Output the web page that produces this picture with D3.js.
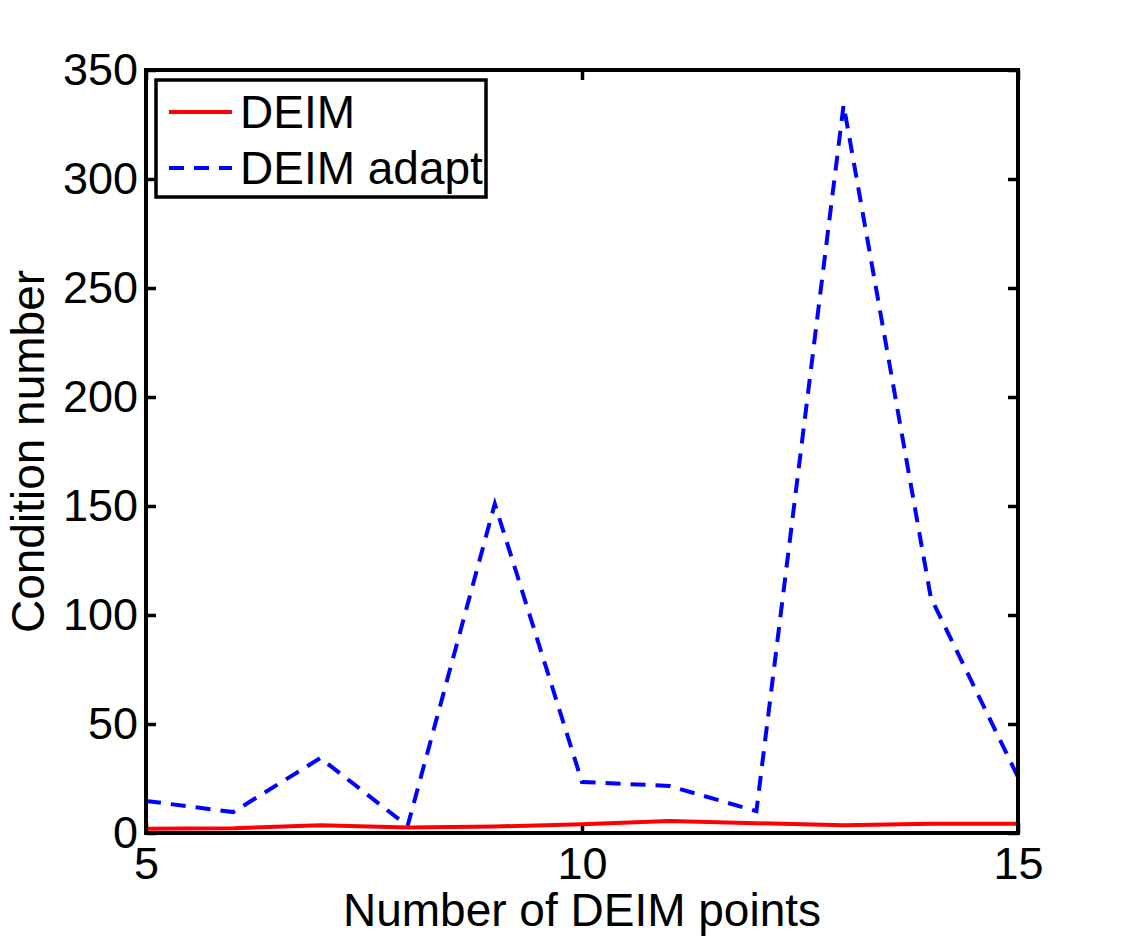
<!DOCTYPE html>
<html>
<head>
<meta charset="utf-8">
<script src="https://cdn.jsdelivr.net/npm/d3@7"></script>
<style>
body { margin: 0; background: #fff; }
text { font-family: "Liberation Sans", Arial, sans-serif; fill: #000; }
</style>
</head>
<body>
<svg id="vis"></svg>
<script>
var points = [5, 6, 7, 8, 9, 10, 11, 12, 13, 14, 15];
var deim = [2, 2.2, 3.5, 2.5, 3, 4, 5.5, 4.5, 3.5, 4.2, 4.3];
var deimAdapt = [14.7, 9.6, 34.4, 3.2, 151, 23.4, 21.6, 10, 334, 108, 25.7];
var xTicks = [5, 10, 15];
var yTicks = [0, 50, 100, 150, 200, 250, 300, 350];

var margin = {top: 70, right: 107, bottom: 105, left: 146},
    width = 1125 - margin.left - margin.right,
    height = 938 - margin.top - margin.bottom;

var svg = d3.select("#vis")
    .attr("width", 1125)
    .attr("height", 938)
    .append("g")
    .attr("transform", "translate(" + margin.left + "," + margin.top + ")");

var xScale = d3.scaleLinear().domain([5, 15]).range([0, width]);
var yScale = d3.scaleLinear().domain([0, 350]).range([height, 0]);

// axes, ticks pointing inward
function styleAxis(g) {
    g.select(".domain").remove();
    g.selectAll("line").attr("stroke", "#000").attr("stroke-width", 3.5);
    g.selectAll("text").style("font-size", "45px");
}

svg.append("g")
    .attr("transform", "translate(0," + height + ")")
    .call(d3.axisBottom(xScale).tickValues(xTicks).tickSize(-10).tickPadding(14))
    .call(styleAxis);
svg.append("g")
    .call(d3.axisTop(xScale).tickValues(xTicks).tickSize(-10).tickFormat(""))
    .call(styleAxis);
svg.append("g")
    .call(d3.axisLeft(yScale).tickValues(yTicks).tickSize(-10).tickPadding(8))
    .call(styleAxis);
svg.append("g")
    .attr("transform", "translate(" + width + ",0)")
    .call(d3.axisRight(yScale).tickValues(yTicks).tickSize(-10).tickFormat(""))
    .call(styleAxis);

svg.selectAll(".tick text").attr("fill", "#000");

var line = d3.line()
    .x(function (d) { return xScale(d[0]); })
    .y(function (d) { return yScale(d[1]); });

svg.append("path")
    .datum(points.map(function (p, i) { return [p, deimAdapt[i]]; }))
    .attr("d", line)
    .attr("fill", "none")
    .attr("stroke", "#0000ff")
    .attr("stroke-width", 4)
    .attr("stroke-dasharray", "15,10");

svg.append("path")
    .datum(points.map(function (p, i) { return [p, deim[i]]; }))
    .attr("d", line)
    .attr("fill", "none")
    .attr("stroke", "#ff0000")
    .attr("stroke-width", 4);

// frame
svg.append("rect")
    .attr("width", width)
    .attr("height", height)
    .attr("fill", "none")
    .attr("stroke", "#000")
    .attr("stroke-width", 4);

// labels
svg.append("text")
    .attr("x", width / 2)
    .attr("y", height + 93)
    .style("text-anchor", "middle")
    .style("font-size", "46px")
    .text("Number of DEIM points");

svg.append("text")
    .attr("transform", "rotate(-90)")
    .attr("x", -(yScale(175)))
    .attr("y", -102)
    .style("text-anchor", "middle")
    .style("font-size", "46px")
    .text("Condition number");

// legend
var legend = svg.append("g").attr("transform", "translate(10,10)");
legend.append("rect")
    .attr("width", 330)
    .attr("height", 117)
    .attr("fill", "#fff")
    .attr("stroke", "#000")
    .attr("stroke-width", 3.5);

var legendItems = [
    {name: "DEIM", color: "#ff0000", dash: null},
    {name: "DEIM adapt", color: "#0000ff", dash: "15,10"}
];

var item = legend.selectAll(".legend")
    .data(legendItems)
    .enter().append("g")
    .attr("class", "legend")
    .attr("transform", function (d, i) { return "translate(0," + (32 + i * 56) + ")"; });

item.append("line")
    .attr("x1", 13)
    .attr("x2", 76)
    .attr("stroke", function (d) { return d.color; })
    .attr("stroke-width", 4)
    .attr("stroke-dasharray", function (d) { return d.dash; });

item.append("text")
    .attr("x", 84)
    .attr("dy", "0.35em")
    .style("font-size", "46px")
    .text(function (d) { return d.name; });
</script>
</body>
</html>
